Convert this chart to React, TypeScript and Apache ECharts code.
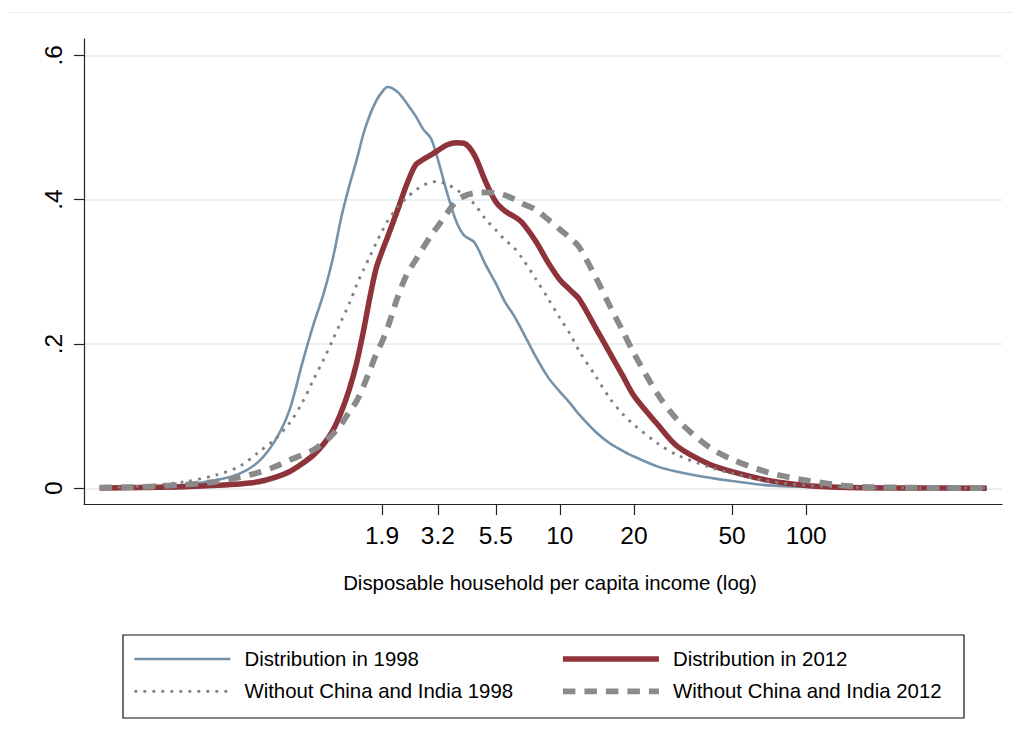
import React, { useEffect, useRef } from "react";
import * as echarts from "echarts";

// Income grid ($ per day, plotted on a log scale)
const incomes = [
  0.136, 0.2, 0.3, 0.4, 0.5, 0.6, 0.7, 0.8, 0.9, 1.0, 1.1, 1.2, 1.3, 1.4, 1.5,
  1.6, 1.7, 1.8, 1.9, 2.0, 2.2, 2.4, 2.6, 2.8, 3.0, 3.2, 3.5, 3.8, 4.1, 4.5,
  5.0, 5.5, 6, 6.5, 7, 8, 9, 10, 11, 12, 14, 16, 18, 20, 25, 30, 40, 50, 70,
  100, 150, 250, 540,
];

const dist1998 = [
  0.001, 0.002, 0.005, 0.011, 0.02, 0.037, 0.066, 0.108, 0.172, 0.226, 0.269,
  0.318, 0.376, 0.419, 0.455, 0.492, 0.518, 0.537, 0.549, 0.556, 0.549, 0.533,
  0.516, 0.497, 0.485, 0.456, 0.408, 0.37, 0.35, 0.341, 0.31, 0.284, 0.258,
  0.24, 0.22, 0.182, 0.153, 0.134, 0.118, 0.102, 0.078, 0.062, 0.052, 0.044,
  0.03, 0.023, 0.015, 0.01, 0.004, 0.002, 0.001, 0.0005, 0.0002,
];

const dist2012 = [
  0.0005, 0.001, 0.002, 0.004, 0.006, 0.009, 0.015, 0.023, 0.034, 0.046, 0.061,
  0.08, 0.106, 0.137, 0.174, 0.219, 0.266, 0.305, 0.328, 0.348, 0.386, 0.422,
  0.448, 0.456, 0.462, 0.468, 0.476, 0.479, 0.478, 0.462, 0.425, 0.397, 0.384,
  0.377, 0.369, 0.342, 0.312, 0.289, 0.275, 0.262, 0.222, 0.187, 0.156, 0.128,
  0.088, 0.058, 0.034, 0.023, 0.011, 0.004, 0.001, 0.0005, 0.0002,
];

const noChinaIndia1998 = [
  0.001, 0.003, 0.009, 0.018, 0.03, 0.05, 0.068, 0.09, 0.118, 0.15, 0.178,
  0.206, 0.232, 0.256, 0.282, 0.303, 0.322, 0.34, 0.356, 0.37, 0.39, 0.403,
  0.413, 0.42, 0.424, 0.425, 0.421, 0.414, 0.406, 0.394, 0.373, 0.358, 0.344,
  0.334, 0.32, 0.29, 0.262, 0.236, 0.214, 0.19, 0.155, 0.124, 0.103, 0.088,
  0.062, 0.046, 0.03, 0.021, 0.01, 0.004, 0.0015, 0.0005, 0.0002,
];

const noChinaIndia2012 = [
  0.001, 0.002, 0.005, 0.009, 0.015, 0.022, 0.03, 0.039, 0.046, 0.053, 0.063,
  0.075, 0.089, 0.106, 0.121, 0.142, 0.164, 0.186, 0.203, 0.222, 0.265, 0.297,
  0.316, 0.334, 0.35, 0.363, 0.382, 0.398, 0.405, 0.409, 0.41, 0.409, 0.406,
  0.401, 0.395, 0.386, 0.372, 0.359, 0.347, 0.334, 0.292, 0.252, 0.218, 0.187,
  0.13, 0.095, 0.058, 0.04, 0.022, 0.011, 0.003, 0.001, 0.0003,
];

const seriesNames = [
  "Distribution in 1998",
  "Distribution in 2012",
  "Without China and India 1998",
  "Without China and India 2012",
];

const xTickIncomes = [1.9, 3.2, 5.5, 10, 20, 50, 100];
const yTickValues = [0, 0.2, 0.4, 0.6];
const xAxisTitle = "Disposable household per capita income (log)";

const FONT = "'Liberation Sans', Arial, Helvetica, sans-serif";

export default function App() {
  const ref = useRef<HTMLDivElement>(null);

  useEffect(() => {
    if (!ref.current) return;
    const chart = echarts.init(ref.current, null, { renderer: "svg" });

    const toData = (ys: number[]) => incomes.map((v, i) => [Math.log10(v), ys[i]]);
    const xTicks = xTickIncomes.map((v) => Math.log10(v));

    const fmtIncome = (val: number) => {
      let best = xTickIncomes[0];
      for (const t of xTickIncomes) {
        if (Math.abs(Math.log10(t) - val) < Math.abs(Math.log10(best) - val)) best = t;
      }
      return String(best);
    };
    const fmtDensity = (v: number) => {
      if (Math.abs(v) < 1e-9) return "0";
      return v.toFixed(1).replace(/^0/, "");
    };

    const seriesStyles = [
      { color: "#7592ab", width: 2.6, type: "solid" as any },
      { color: "#8f333b", width: 5.5, type: "solid" as any },
      { color: "#7f7f7f", width: 2.8, type: [2.8, 6.2] as any },
      { color: "#8a8a8a", width: 5.8, type: [12.5, 9] as any },
    ];
    const seriesData = [dist1998, dist2012, noChinaIndia1998, noChinaIndia2012];

    const legendItem = (i: number) => ({
      name: seriesNames[i],
      lineStyle: {
        width: seriesStyles[i].width,
        color: seriesStyles[i].color,
        type: seriesStyles[i].type,
        cap: "butt",
      },
    });

    const legendBase = {
      orient: "vertical",
      top: 649,
      padding: 0,
      itemWidth: 96,
      itemHeight: 14,
      itemGap: 12.4,
      selectedMode: false,
      itemStyle: { opacity: 0, color: "rgba(0,0,0,0)", borderWidth: 0 },
      textStyle: {
        fontSize: 20.4,
        lineHeight: 20,
        color: "#000",
        fontFamily: FONT,
        padding: [0, 0, 0, 9],
      },
    };

    chart.setOption({
      animation: false,
      backgroundColor: "#ffffff",
      textStyle: { fontFamily: FONT, color: "#000" },
      grid: { left: 84, right: 11, top: 39, bottom: 242, containLabel: false },
      xAxis: {
        type: "value",
        min: -0.9301,
        max: 2.794,
        axisLine: { onZero: false, lineStyle: { color: "#222", width: 1.2 } },
        axisTick: {
          show: true,
          length: 11,
          customValues: xTicks,
          lineStyle: { color: "#222", width: 1.2 },
        },
        axisLabel: {
          customValues: xTicks,
          formatter: (v: number) => fmtIncome(v),
          fontSize: 24.5,
          color: "#000",
          fontFamily: FONT,
          margin: 19,
        },
        splitLine: { show: false },
        name: xAxisTitle,
        nameLocation: "middle",
        nameGap: 69,
        nameTextStyle: {
          fontSize: 20.4,
          color: "#000",
          fontFamily: FONT,
          padding: [0, 0, 0, 14],
        },
      },
      yAxis: {
        type: "value",
        min: -0.02176,
        max: 0.6226,
        axisLine: { show: true, onZero: false, lineStyle: { color: "#222", width: 1.2 } },
        axisTick: {
          show: true,
          length: 10,
          customValues: yTickValues,
          lineStyle: { color: "#222", width: 1.2 },
        },
        axisLabel: {
          customValues: yTickValues,
          formatter: (v: number) => fmtDensity(v),
          rotate: 90,
          fontSize: 24.5,
          color: "#000",
          fontFamily: FONT,
          margin: 18,
        },
        splitLine: { show: true, lineStyle: { color: "#e8eff2", width: 2 } },
      },
      legend: [
        { ...legendBase, data: [legendItem(0), legendItem(2)], left: 133 },
        { ...legendBase, data: [legendItem(1), legendItem(3)], left: 560 },
      ],
      graphic: [
        {
          type: "line",
          shape: { x1: 9, y1: 12.5, x2: 1013, y2: 12.5 },
          style: { stroke: "#e6eef0", lineWidth: 1 },
          silent: true,
        },
        {
          type: "rect",
          shape: { x: 123, y: 635, width: 841, height: 83 },
          style: { fill: "none", stroke: "#111", lineWidth: 1.2 },
          silent: true,
        },
      ],
      series: seriesData.map((ys, i) => ({
        name: seriesNames[i],
        type: "line",
        data: toData(ys),
        symbol: "none",
        smooth: 0.3,
        clip: true,
        lineStyle: {
          color: seriesStyles[i].color,
          width: seriesStyles[i].width,
          type: seriesStyles[i].type,
          cap: "butt",
          join: "round",
        },
        itemStyle: { color: seriesStyles[i].color },
        emphasis: { disabled: true },
      })),
    });

    return () => chart.dispose();
  }, []);

  return (
    <div
      ref={ref}
      style={{ position: "fixed", left: 0, top: 0, width: 1013, height: 746, background: "#fff" }}
    />
  );
}
